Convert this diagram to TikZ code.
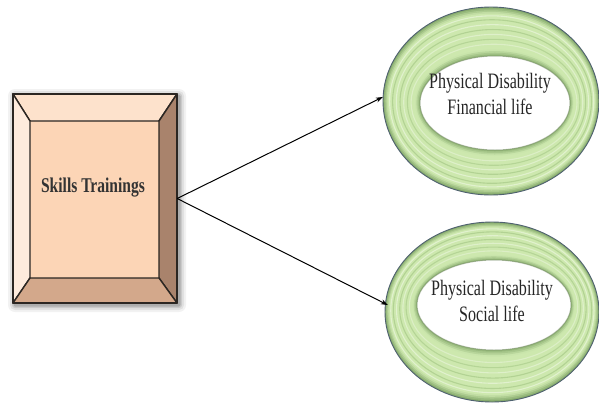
\documentclass[tikz,border=0pt]{standalone}
\usepackage{fontspec}
\setmainfont{Liberation Serif}
\usetikzlibrary{arrows.meta,shapes.geometric}

\definecolor{bevface}{HTML}{FCD5B6}
\definecolor{bevtop}{HTML}{FDE2CC}
\definecolor{bevleft}{HTML}{FEEBDD}
\definecolor{bevright}{HTML}{A9836C}
\definecolor{bevbottom}{HTML}{D3A88B}
\definecolor{bevline}{HTML}{2B2622}
\definecolor{ringlo}{HTML}{86AA6C}
\definecolor{ringmid}{HTML}{A9CB8A}
\definecolor{ringhi}{HTML}{CDE8AE}
\definecolor{ringedge}{HTML}{4F6170}

\tikzset{
  bevel/.style={draw=bevline, line width=1.4pt, line join=round},
  label text/.style={font=\fontsize{22}{26}\selectfont, align=center, xscale=0.73, text=black!85},
  box text/.style={font=\bfseries\fontsize{21}{22}\selectfont, xscale=0.74, text=black!80},
  link/.style={draw=black, line width=1pt, -{Stealth[length=7pt,width=5pt]}},
  ring anchor/.style={ellipse, minimum width=#1, minimum height=188pt, inner sep=0pt}
}

% draws a green torus: centre, outer radii, hole offset, hole radii
\newcommand\greenring[8]{%
  \begin{scope}[shift={(#1,#2)}]
    \foreach \i in {0,...,30}{
      \pgfmathsetmacro\tt{\i/30}
      \pgfmathtruncatemacro\pc{min(100, 100*min(\tt/0.12, (1-\tt)/0.14))}
      \fill[ringhi!\pc!ringlo]
        ({\tt*#5},{\tt*#6}) ellipse [x radius={#3+\tt*(#7-#3)}, y radius={#4+\tt*(#8-#4)}];
    }
    \foreach \tt/\cc/\oo in {0.18/white/0.4,0.26/ringmid/0.75,0.36/white/0.4,0.46/ringmid/0.75,0.56/white/0.35,0.66/ringmid/0.65,0.76/white/0.3}{
      \draw[\cc, opacity=\oo, line width=1.1pt]
        ({\tt*#5},{\tt*#6}) ellipse [x radius={#3+\tt*(#7-#3)}, y radius={#4+\tt*(#8-#4)}];
    }
    \draw[ringedge, line width=0.9pt] (0,0) ellipse [x radius=#3, y radius=#4];
    \fill[white] (#5,#6) ellipse [x radius=#7, y radius=#8];
    \draw[ringlo!70!black, opacity=0.45, line width=1pt] (#5,#6) ellipse [x radius=#7, y radius=#8];
  \end{scope}%
}

\begin{document}
\begin{tikzpicture}[x=1pt,y=-1pt]
\useasboundingbox (0,0) rectangle (599,408);

% soft shadow behind the bevelled box
\foreach \g/\o in {7/0.05,5/0.07,3/0.1,1.5/0.14}{
  \fill[black, opacity=\o, rounded corners=\g] (13-\g+2,94-\g+2) rectangle (177+\g+2,303+\g+2);
}

% bevelled box
\fill[bevface] (30,121) rectangle (159,278);
\filldraw[bevel, fill=bevtop]    (13,94) -- (177,94) -- (159,121) -- (30,121) -- cycle;
\filldraw[bevel, fill=bevleft]   (13,94) -- (30,121) -- (30,278) -- (13,303) -- cycle;
\filldraw[bevel, fill=bevright]  (177,94) -- (177,303) -- (159,278) -- (159,121) -- cycle;
\filldraw[bevel, fill=bevbottom] (13,303) -- (177,303) -- (159,278) -- (30,278) -- cycle;
\draw[bevel] (13,94) rectangle (177,303);

\node[minimum width=164pt, minimum height=209pt, inner sep=0pt] (skills) at (95,198.5) {};
\node[box text] (skillslabel) at (93,188) {Skills Trainings};

% rings
\greenring{491}{101}{108}{94}{4}{2}{75}{47}
\greenring{492}{312}{107}{90}{2}{-7}{77}{45}

\node[ring anchor=216pt] (ring1) at (491,101) {};
\node[ring anchor=214pt, minimum height=180pt] (ring2) at (492,312) {};

\node[label text] (label1) at (490,94) {Physical Disability\\Financial life};
\node[label text] (label2) at (492,301) {Physical Disability\\Social life};

% connectors
\draw[link] (skills.east) -- ([yshift=4pt]ring1.west);
\draw[link] (skills.east) -- ([xshift=3pt,yshift=7pt]ring2.west);
\end{tikzpicture}
\end{document}
